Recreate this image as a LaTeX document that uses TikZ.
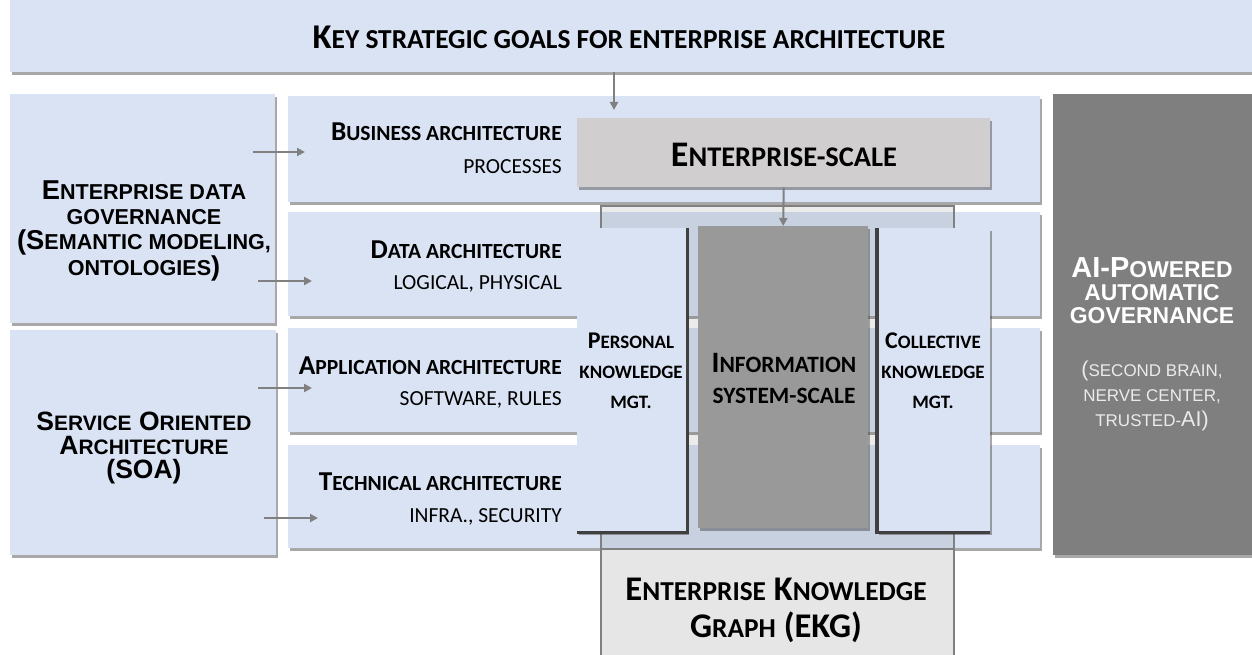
\documentclass[tikz,border=0pt]{standalone}
\usepackage{fontspec}
\setmainfont{Carlito}
\newfontfamily\arialf{Liberation Sans}
\usetikzlibrary{shadows,arrows.meta}

% fake small capitals: the text is typed in upper case and set smaller
\makeatletter
\newcommand\sm[1]{{\fontsize{\fpeval{0.79*\f@size}}{\f@baselineskip}\selectfont #1}}
\makeatother

\definecolor{paleblue}{HTML}{DAE3F3}
\definecolor{scalegray}{HTML}{D0CECE}
\definecolor{infogray}{HTML}{999999}
\definecolor{aigray}{HTML}{7F7F7F}
\definecolor{ekggray}{HTML}{E7E6E6}
\definecolor{linegray}{HTML}{808080}
\definecolor{edgedark}{HTML}{404040}

\tikzset{
  panel/.style={fill=paleblue, draw=none, inner sep=0pt, anchor=north west,
    drop shadow={shadow xshift=1.5pt, shadow yshift=-3pt, opacity=0.45, fill=black!75}},
  greypanel/.style={panel, fill=#1},
  lbl/.style={inner sep=0pt, align=center},
  rowtitle/.style={inner sep=0pt, anchor=base east, font=\bfseries\fontsize{27.3}{30}\selectfont},
  rowsub/.style={inner sep=0pt, anchor=base east, font=\fontsize{21.5}{24}\selectfont},
  arr/.style={draw=linegray, line width=2pt, -{Triangle[length=8pt,width=8pt]}},
  darkedge/.style={draw=edgedark, line width=3.5pt},
}

\begin{document}
\begin{tikzpicture}[x=1pt, y=-1pt]
\useasboundingbox (0,0) rectangle (1252,655);
\fill[white] (0,0) rectangle (1252,655);

% banner with the strategic goals
\node[panel, minimum width=1242pt, minimum height=72pt] (goals) at (10,0) {};
\node[lbl, font=\bfseries\fontsize{34.7}{40}\selectfont] (goalstxt) at (629,37)
  {K\sm{EY STRATEGIC GOALS FOR ENTERPRISE ARCHITECTURE}};

% architecture layers
\node[panel, minimum width=752pt, minimum height=106pt] (rowbus) at (288,96) {};
\node[panel, minimum width=752pt, minimum height=104pt] (rowdata) at (288,212) {};
\node[panel, minimum width=752pt, minimum height=104pt] (rowapp) at (288,328) {};
\node[panel, minimum width=752pt, minimum height=103pt] (rowtech) at (288,445) {};

\node[rowtitle] (bustitle) at (562,141) {B\sm{USINESS ARCHITECTURE}};
\node[rowsub] (bussub) at (562,174) {PROCESSES};
\node[rowtitle] (datatitle) at (562,258) {D\sm{ATA ARCHITECTURE}};
\node[rowsub] (datasub) at (562,289) {LOGICAL, PHYSICAL};
\node[rowtitle] (apptitle) at (562,374) {A\sm{PPLICATION ARCHITECTURE}};
\node[rowsub] (appsub) at (562,405) {SOFTWARE, RULES};
\node[rowtitle] (techtitle) at (562,490) {T\sm{ECHNICAL ARCHITECTURE}};
\node[rowsub] (techsub) at (562,522) {INFRA., SECURITY};

% governance boxes on the left
\node[panel, minimum width=265pt, minimum height=229pt] (edg) at (10,94) {};
\node[lbl, font=\arialf\bfseries\fontsize{27.3}{25}\selectfont] (edgtxt) at (144,231)
  {E\sm{NTERPRISE DATA}\\\sm{GOVERNANCE}\\(S\sm{EMANTIC MODELING,}\\\sm{ONTOLOGIES})};
\node[panel, minimum width=266pt, minimum height=225pt] (soa) at (10,330) {};
\node[lbl, font=\arialf\bfseries\fontsize{26.5}{24}\selectfont] (soatxt) at (144,448)
  {S\sm{ERVICE} O\sm{RIENTED}\\A\sm{RCHITECTURE}\\(SOA)};

% automatic governance on the right
\node[greypanel=aigray, minimum width=199pt, minimum height=461pt] (aigov) at (1053,94) {};
\node[lbl, text=white, font=\arialf\bfseries\fontsize{29}{23}\selectfont] (aitxt) at (1152,291)
  {AI-P\sm{OWERED}\\\sm{AUTOMATIC}\\\sm{GOVERNANCE}};
\node[lbl, text=white!92!black, font=\arialf\fontsize{21.5}{25}\selectfont] (aisub) at (1152,396)
  {(\sm{SECOND BRAIN,}\\\sm{NERVE CENTER,}\\\sm{TRUSTED-}AI)};

% knowledge graph frame spanning the lower layers
\node[draw=linegray, line width=2pt, fill=black, fill opacity=0.08, inner sep=0pt,
  anchor=north west, minimum width=353pt, minimum height=450pt] (frame) at (600,205) {};

% enterprise scale
\node[greypanel=scalegray, minimum width=413pt, minimum height=69pt] (escale) at (577,118) {};
\node[lbl, font=\bfseries\fontsize{36}{40}\selectfont] (escaletxt) at (784,155)
  {E\sm{NTERPRISE-SCALE}};

% knowledge management columns and the information system
\node[panel, minimum width=110pt, minimum height=304pt] (pkm) at (577,228) {};
\draw[darkedge] (pkm.north east) -- (pkm.south east) -- (pkm.south west);
\node[lbl, font=\bfseries\fontsize{24}{30}\selectfont] (pkmtxt) at (631,371)
  {P\sm{ERSONAL}\\\sm{KNOWLEDGE}\\\sm{MGT.}};

\node[greypanel=infogray, minimum width=170pt, minimum height=302pt] (info) at (698,226) {};
\node[lbl, font=\bfseries\fontsize{29.6}{31}\selectfont] (infotxt) at (784,378)
  {I\sm{NFORMATION}\\\sm{SYSTEM-SCALE}};

\node[panel, minimum width=113pt, minimum height=304pt] (ckm) at (877,228) {};
\draw[darkedge] (ckm.north west) -- (ckm.south west) -- (ckm.south east);
\node[lbl, font=\bfseries\fontsize{24}{30}\selectfont] (ckmtxt) at (933,371)
  {C\sm{OLLECTIVE}\\\sm{KNOWLEDGE}\\\sm{MGT.}};

% enterprise knowledge graph
\node[draw=linegray, line width=2pt, fill=ekggray, inner sep=0pt, anchor=north west,
  minimum width=353pt, minimum height=107pt] (ekg) at (600,548) {};
\node[lbl, font=\bfseries\fontsize{34.6}{37}\selectfont] (ekgtxt) at (776,610)
  {E\sm{NTERPRISE} K\sm{NOWLEDGE}\\G\sm{RAPH} (EKG)};

% connectors
\coordinate (topx) at (614,0);
\draw[arr, shorten >=8pt] (goals.south -| topx) -- (escale.north -| topx);
\draw[arr] (escale.south) -- (info.north);

\coordinate (a1s) at (253,152); \coordinate (a1e) at (305,152);
\coordinate (a2s) at (258,281); \coordinate (a2e) at (312,281);
\coordinate (a3s) at (258,388); \coordinate (a3e) at (312,388);
\coordinate (a4s) at (264,518); \coordinate (a4e) at (318,518);
\draw[arr] (a1s) -- (a1e);
\draw[arr] (a2s) -- (a2e);
\draw[arr] (a3s) -- (a3e);
\draw[arr] (a4s) -- (a4e);
\end{tikzpicture}
\end{document}
